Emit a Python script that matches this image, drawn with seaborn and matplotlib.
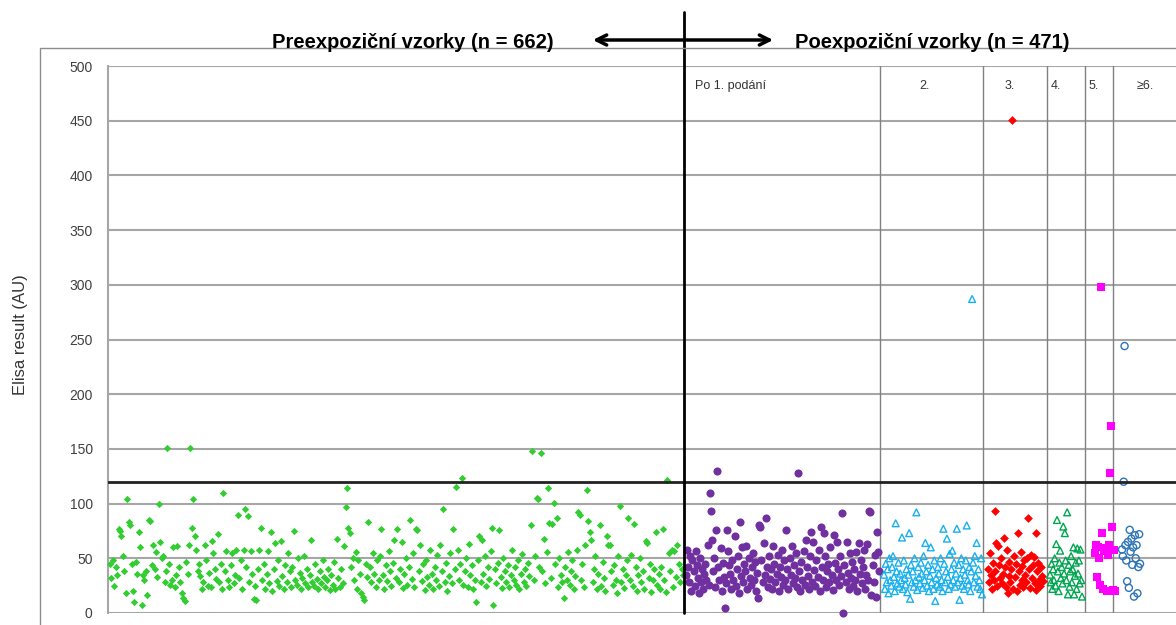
import numpy as np
import pandas as pd
import seaborn as sns
import matplotlib.pyplot as plt
from matplotlib.patches import Rectangle

# Elisa results (AU), samples in order
pre = [45, 32, 48, 25, 42, 35, 77, 75, 70, 52, 38, 18, 104, 83, 80, 45, 20, 10, 47, 36,
       74, 60, 7, 35, 30, 38, 16, 85, 84, 44, 62, 40, 56, 33, 100, 65, 50, 52, 28, 38,
       151, 45, 26, 30, 60, 24, 35, 61, 42, 28, 18, 14, 11, 47, 36, 62, 151, 78, 104, 70,
       58, 38, 45, 34, 22, 28, 62, 48, 25, 37, 24, 66, 55, 40, 31, 72, 28, 45, 22, 110,
       38, 57, 30, 24, 44, 55, 27, 35, 58, 90, 32, 48, 22, 58, 95, 42, 89, 28, 57, 36,
       13, 25, 12, 40, 58, 78, 30, 45, 22, 36, 57, 27, 74, 20, 40, 64, 29, 48, 25, 66,
       34, 22, 44, 28, 55, 38, 24, 42, 75, 30, 26, 50, 37, 22, 32, 52, 27, 40, 24, 35,
       67, 28, 25, 45, 31, 22, 38, 27, 48, 33, 24, 30, 40, 21, 35, 26, 47, 22, 68, 32,
       24, 40, 27, 61, 97, 114, 78, 73, 42, 50, 30, 56, 22, 48, 36, 18, 15, 12, 45, 33,
       83, 42, 28, 55, 36, 24, 48, 30, 52, 77, 35, 22, 44, 29, 57, 38, 25, 46, 67, 32,
       77, 28, 40, 65, 23, 36, 50, 26, 42, 85, 31, 55, 24, 77, 76, 38, 62, 29, 45, 21,
       48, 33, 26, 58, 36, 22, 42, 30, 53, 25, 62, 38, 95, 28, 46, 20, 34, 55, 27, 77,
       40, 115, 58, 30, 45, 123, 26, 38, 50, 24, 63, 35, 44, 22, 30, 10, 48, 70, 28, 67,
       36, 52, 25, 42, 31, 57, 78, 7, 40, 27, 46, 76, 33, 23, 50, 38, 28, 44, 24, 35,
       58, 30, 42, 26, 48, 22, 36, 54, 28, 40, 25, 46, 34, 80, 148, 30, 52, 105, 104, 42,
       146, 38, 68, 27, 56, 114, 82, 32, 81, 101, 45, 87, 24, 50, 35, 28, 14, 42, 30, 56,
       26, 38, 48, 22, 34, 58, 92, 90, 30, 45, 24, 62, 112, 84, 74, 67, 28, 40, 52, 22,
       36, 80, 25, 47, 32, 20, 70, 62, 62, 38, 26, 44, 30, 18, 52, 98, 28, 40, 23, 35,
       48, 87, 30, 53, 25, 81, 42, 20, 35, 50, 28, 38, 22, 66, 64, 32, 45, 19, 30, 40,
       74, 26, 36, 22, 42, 77, 30, 19, 122, 55, 38, 58, 24, 57, 33, 62, 45, 28, 40, 35]

po1 = [35, 58, 42, 28, 52, 20, 48, 38, 25, 57, 44, 32, 18, 50, 28, 40, 22, 36, 45, 30,
       62, 26, 110, 93, 67, 38, 50, 24, 76, 130, 42, 30, 59, 20, 46, 33, 5, 27, 76, 57,
       44, 36, 22, 48, 30, 70, 25, 40, 52, 18, 83, 34, 60, 28, 45, 38, 61, 22, 50, 32,
       26, 42, 55, 30, 47, 20, 37, 14, 80, 79, 48, 28, 64, 35, 87, 42, 24, 52, 31, 40,
       22, 61, 45, 28, 36, 53, 20, 42, 33, 58, 26, 48, 30, 76, 40, 22, 50, 35, 61, 27,
       44, 32, 55, 24, 128, 38, 20, 47, 30, 57, 26, 67, 42, 34, 22, 52, 74, 28, 65, 39,
       25, 48, 33, 58, 20, 79, 42, 30, 73, 52, 24, 38, 45, 28, 60, 35, 21, 71, 46, 30,
       65, 40, 26, 52, 34, 91, 0, 44, 28, 65, 37, 22, 55, 32, 47, 25, 40, 30, 56, 20,
       64, 36, 48, 27, 42, 58, 22, 35, 63, 30, 93, 92, 16, 44, 28, 53, 15, 74, 56, 38]

po2 = [35, 22, 45, 28, 40, 18, 50, 30, 25, 42, 52, 33, 20, 82, 38, 27, 46, 24, 36, 30,
       69, 22, 48, 32, 26, 40, 19, 35, 73, 13, 44, 28, 38, 24, 50, 30, 92, 21, 42, 33,
       27, 46, 36, 23, 52, 30, 64, 38, 25, 44, 20, 34, 60, 28, 40, 22, 48, 11, 32, 26,
       42, 36, 24, 50, 30, 20, 77, 45, 28, 38, 68, 33, 22, 54, 26, 40, 57, 30, 46, 24,
       36, 77, 28, 44, 12, 32, 50, 25, 40, 22, 35, 48, 80, 30, 26, 42, 20, 38, 287, 46,
       28, 52, 34, 64, 24, 40, 30, 22, 50, 17]

po3 = [40, 28, 55, 35, 22, 46, 30, 38, 93, 64, 25, 61, 44, 32, 50, 27, 36, 69, 42, 24,
       58, 18, 34, 47, 28, 40, 451, 22, 52, 33, 45, 20, 73, 38, 26, 56, 30, 43, 24, 48,
       35, 28, 50, 87, 40, 23, 53, 32, 44, 51, 27, 73, 21, 38, 46, 30, 25, 42, 34, 29]

po4 = [35, 28, 45, 22, 40, 30, 50, 25, 63, 85, 38, 20, 46, 57, 32, 42, 27, 79, 36, 73, 48,
       30, 92, 17, 44, 24, 38, 52, 28, 40, 60, 17, 34, 46, 22, 59, 36, 48, 27, 58, 30, 15]

po5 = [55, 62, 33, 60, 50, 26, 298, 73, 22, 57, 59, 20, 53, 62, 128, 171, 79, 21, 58, 20]

po6 = [58, 52, 120, 244, 62, 48, 29, 65, 23, 76, 56, 68, 44, 60, 15, 71, 50, 62, 18, 42,
       72, 45]

group_labels = ["Po 1. podání", "2.", "3.", "4.", "5.", "≥6."]
cutoff = 120

# layout (x axis in sample-order units)
spans = [(2, 575), (578, 771), (776, 874), (880, 935), (942, 974), (987, 1007), (1014, 1032)]
looks = [("#33CC33", "D", 14, True), ("#7030A0", "o", 34, True), ("#19B0EC", "^", 24, False),
         ("#FF0000", "D", 20, True), ("#00A550", "^", 24, False), ("#FF00FF", "s", 28, True),
         ("#2E75B6", "o", 26, False)]

frames = []
for i, (vals, (a, b)) in enumerate(zip([pre, po1, po2, po3, po4, po5, po6], spans)):
    frames.append(pd.DataFrame({"x": np.linspace(a, b, len(vals)), "y": vals, "g": i}))
df = pd.concat(frames)

sns.set_theme(style="white")
plt.rcParams['font.family'] = ['Liberation Sans', 'DejaVu Sans']

fig = plt.figure(figsize=(11.76, 6.25), dpi=100)
ax = fig.add_axes([108 / 1176, 12 / 625, 1068 / 1176, 547 / 625])

# chart area border
fig.add_artist(Rectangle((40 / 1176, -0.1), 1.1, 1.1 - 48 / 625, transform=fig.transFigure,
                         fill=False, edgecolor="#8c8c8c", lw=1))

for g, (color, marker, size, filled) in enumerate(looks):
    d = df[df["g"] == g]
    if filled:
        sns.scatterplot(data=d, x="x", y="y", ax=ax, color=color, marker=marker, s=size,
                        linewidth=0, clip_on=False, zorder=3)
    else:
        sns.scatterplot(data=d, x="x", y="y", ax=ax, marker=marker, s=size,
                        facecolor="none", edgecolor=color, linewidth=1, clip_on=False, zorder=3)

ax.set_xlim(0, 1068)
ax.set_ylim(0, 500)
ax.set_yticks(range(0, 501, 50))
ax.set_xticks([])
ax.set_xlabel("")
ax.set_ylabel("")
ax.yaxis.grid(True, color="#a6a6a6", lw=1.5)
ax.set_axisbelow(True)
for side in ["top", "right", "bottom"]:
    ax.spines[side].set_visible(False)
ax.spines["left"].set_color("#a6a6a6")
ax.spines["left"].set_linewidth(1.5)
ax.tick_params(axis="y", length=5, width=1, color="#a6a6a6", labelsize=10, labelcolor="#404040", pad=6)

# cutoff and group separators
ax.axhline(cutoff, color="#222222", lw=2, zorder=4)
ax.plot([576, 576], [0, 549], color="black", lw=2, clip_on=False, zorder=4)
for xs in [772, 875, 939, 977, 1005]:
    ax.axvline(xs, color="#808080", lw=1, zorder=2)

label_x = [587, 817, 902, 948, 986, 1037]
for i, (lab, lx) in enumerate(zip(group_labels, label_x)):
    ax.text(lx, 482, lab, fontsize=9, color="#333333", ha="left" if i == 0 else "center", va="center")

fig.text(20 / 1176, 1 - 335 / 625, "Elisa result (AU)", rotation=90, ha="center", va="center",
         fontsize=12, color="#333333")
fig.text(413 / 1176, 1 - 42 / 625, "Preexpoziční vzorky (n = 662)", ha="center", va="center",
         fontsize=14.5, fontweight="bold", color="black")
fig.text(932 / 1176, 1 - 42 / 625, "Poexpoziční vzorky (n = 471)", ha="center", va="center",
         fontsize=14.5, fontweight="bold", color="black")
ax.annotate("", xy=(776 / 1176, 1 - 40 / 625), xytext=(590 / 1176, 1 - 40 / 625),
            xycoords="figure fraction", textcoords="figure fraction",
            arrowprops=dict(arrowstyle="<->", lw=2.5, color="black", mutation_scale=18))

plt.savefig("out.png", dpi=100)
